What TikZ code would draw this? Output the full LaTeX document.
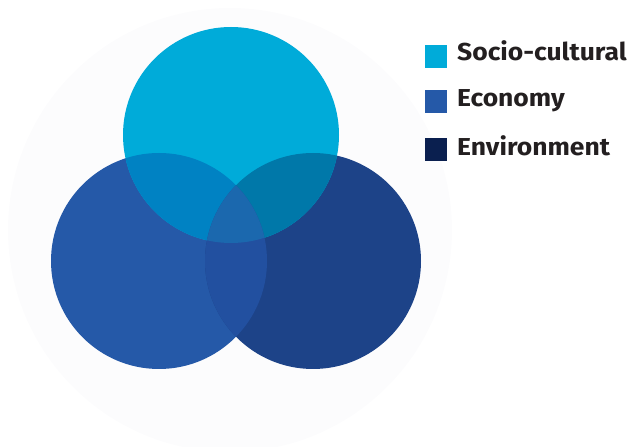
\documentclass[tikz,border=0pt]{standalone}
\usepackage{fontspec}
\usepackage{graphicx}
\setmainfont{Fira Sans}
\definecolor{socio}{HTML}{00ABD9}
\definecolor{econ}{HTML}{2559A8}
\definecolor{envi}{HTML}{1D4388}
\definecolor{envleg}{HTML}{0A1F4F}
\definecolor{tl}{HTML}{0082C3}
\definecolor{tr}{HTML}{0078A9}
\definecolor{lr}{HTML}{2250A0}
\definecolor{all}{HTML}{1B68AE}
\definecolor{txt}{HTML}{231F20}
\definecolor{halo}{HTML}{FCFCFD}
\newcommand{\legw}[1]{\scalebox{1.08}[1]{#1}}
\begin{document}
\begin{tikzpicture}[x=1pt,y=1pt,
  legsq/.style={minimum size=22.5pt,inner sep=0pt,anchor=north west},
  legtxt/.style={anchor=base west,inner sep=0pt,font=\fontsize{24.5}{28}\selectfont\bfseries,text=txt}]
\useasboundingbox (0,0) rectangle (630,447);
\fill[halo] (230,217) circle (222);
\coordinate (T) at (231,312);
\coordinate (L) at (159,186);
\coordinate (R) at (313,186);
\fill[econ] (L) circle (108);
\fill[envi] (R) circle (108);
\fill[socio] (T) circle (108);
\begin{scope}
  \clip (T) circle (108);
  \fill[tl] (L) circle (108);
  \fill[tr] (R) circle (108);
\end{scope}
\begin{scope}
  \clip (L) circle (108);
  \clip (R) circle (108);
  \fill[lr] (0,0) rectangle (630,447);
  \clip (T) circle (108);
  \fill[all] (0,0) rectangle (630,447);
\end{scope}
\node[legsq,fill=socio] (s1) at (424.5,402) {};
\node[legsq,fill=econ] (s2) at (424.5,357) {};
\node[legsq,fill=envleg] (s3) at (424.5,309) {};
\node[legtxt] (t1) at (457,386.3) {\legw{Socio-cultural}};
\node[legtxt] (t2) at (457,340.3) {\legw{Economy}};
\node[legtxt] (t3) at (457,291) {\legw{Environment}};
\end{tikzpicture}
\end{document}
